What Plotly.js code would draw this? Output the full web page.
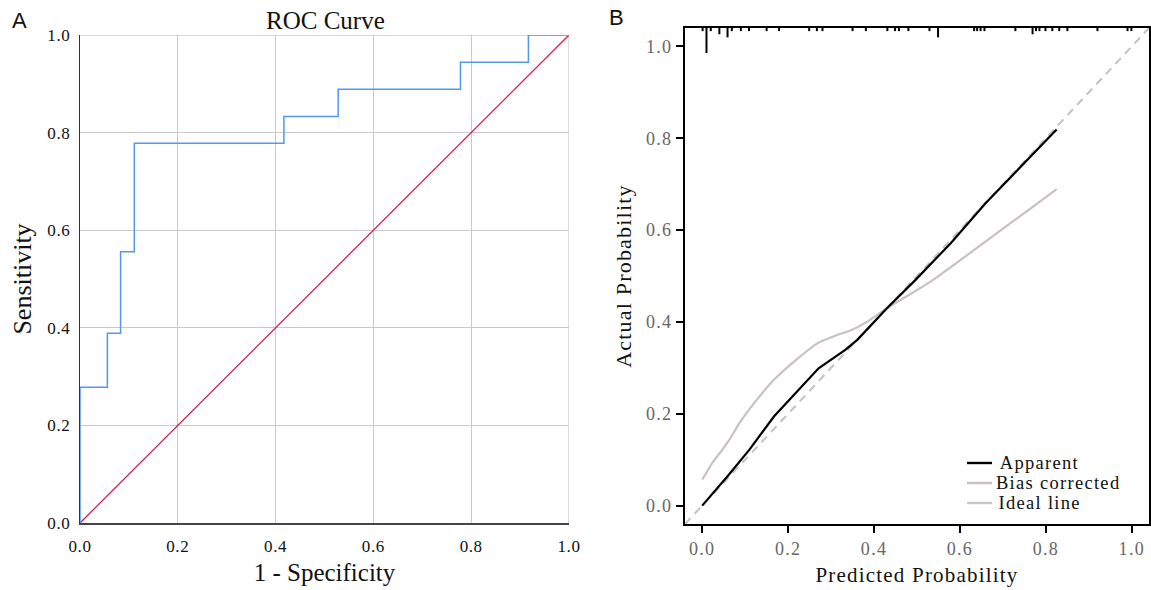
<!DOCTYPE html>
<html>
<head>
<meta charset="utf-8">
<script src="https://cdn.plot.ly/plotly-3.0.1.min.js"></script>
<style>
  html, body { margin: 0; padding: 0; background: #fff; }
  #chart { width: 1151px; height: 590px; }
  .xtick text, .ytick text { letter-spacing: 0.6px; }
  .x2tick text, .y2tick text { letter-spacing: 1.3px; }
  .g-x2title text, .g-y2title text { letter-spacing: 1.2px; }
  .annotation[data-index="3"] text,
  .annotation[data-index="4"] text,
  .annotation[data-index="5"] text { letter-spacing: 1.3px; }
</style>
</head>
<body>
<div id="chart"></div>
<script>
// ---------- Panel A: ROC curve ----------
const rocFPR = [0, 0, 0.056, 0.083, 0.111, 0.417, 0.528, 0.778, 0.917, 1.0];
const rocTPR = [0, 0.278, 0.389, 0.556, 0.778, 0.833, 0.889, 0.944, 1.0, 1.0];
const refX = [0, 1];
const refY = [0, 1];
const rocTicks = [0, 0.2, 0.4, 0.6, 0.8, 1.0];

// ---------- Panel B: calibration curve ----------
const apparentX = [0.0, 0.06, 0.11, 0.167, 0.271, 0.333, 0.361, 0.43, 0.496, 0.578, 0.659, 0.741, 0.825];
const apparentY = [0.0, 0.065, 0.122, 0.194, 0.299, 0.339, 0.361, 0.43, 0.491, 0.571, 0.658, 0.738, 0.819];
const biasX = [0.0, 0.01, 0.025, 0.047, 0.063, 0.087, 0.125, 0.167, 0.218, 0.271, 0.31, 0.349, 0.39, 0.43, 0.48, 0.537, 0.578, 0.619, 0.7, 0.76, 0.825];
const biasY = [0.057, 0.072, 0.095, 0.122, 0.143, 0.18, 0.228, 0.274, 0.317, 0.355, 0.37, 0.383, 0.404, 0.43, 0.458, 0.491, 0.519, 0.547, 0.603, 0.644, 0.689];
const idealX = [-0.04, 1.04];
const idealY = [-0.04, 1.04];
// distribution of predicted probabilities (rug at top) and relative frequency
const rugX = [0.001, 0.010, 0.020, 0.040, 0.059, 0.069, 0.090, 0.109, 0.150, 0.179, 0.249, 0.267, 0.280,
              0.350, 0.381, 0.431, 0.449, 0.458, 0.480, 0.529, 0.549, 0.633, 0.640, 0.648, 0.657, 0.729,
              0.769, 0.777, 0.785, 0.799, 0.815, 0.831, 0.850, 0.920, 0.990, 0.999];
const rugN = [1, 8, 1, 2, 3, 1, 1, 1, 1, 1, 1, 1, 1,
              1, 1, 1, 1, 1, 1, 1, 3, 1, 1, 1, 1, 1,
              2, 1, 1, 1, 1, 1, 1, 1, 1, 1];
const calTicks = [0, 0.2, 0.4, 0.6, 0.8, 1.0];
const legendNames = ['Apparent', 'Bias corrected', 'Ideal line'];
const legendColors = ['#000000', '#c8c1c1', '#c6c6c6'];

// build rug segments
const rugTop = 1.04, rugUnit = 0.0068;
const rugSegX = [], rugSegY = [];
rugX.forEach((v, i) => {
  rugSegX.push(v, v, null);
  rugSegY.push(rugTop, rugTop - rugUnit * rugN[i], null);
});

const W = 1151, H = 590;
const px = v => v / W;
const py = v => 1 - v / H;

const serif = 'Liberation Serif, Times New Roman, serif';
const sans = 'Liberation Sans, Arial, sans-serif';

const traces = [
  {x: refX, y: refY, xaxis: 'x', yaxis: 'y', mode: 'lines', line: {color: '#e3174a', width: 1.3}, showlegend: false, hoverinfo: 'skip'},
  {x: rocFPR, y: rocTPR, xaxis: 'x', yaxis: 'y', mode: 'lines', line: {color: '#5398f0', width: 1.5, shape: 'hv'}, showlegend: false, hoverinfo: 'skip'},

  {x: idealX, y: idealY, xaxis: 'x2', yaxis: 'y2', mode: 'lines', line: {color: '#c2c2c2', width: 2, dash: '8px,6px'}, showlegend: false, hoverinfo: 'skip'},
  {x: biasX, y: biasY, xaxis: 'x2', yaxis: 'y2', mode: 'lines', line: {color: legendColors[1], width: 2.2, shape: 'spline', smoothing: 0.6}, showlegend: false, hoverinfo: 'skip'},
  {x: apparentX, y: apparentY, xaxis: 'x2', yaxis: 'y2', mode: 'lines', line: {color: legendColors[0], width: 2.2}, showlegend: false, hoverinfo: 'skip'},
  {x: rugSegX, y: rugSegY, xaxis: 'x2', yaxis: 'y2', mode: 'lines', line: {color: '#000', width: 2}, showlegend: false, hoverinfo: 'skip', cliponaxis: false}
];

const shapes = [
  {type: 'line', xref: 'x', yref: 'y', x0: 0, x1: 1, y0: 1, y1: 1, line: {color: '#c9c9c9', width: 1.3}, layer: 'below'},
  {type: 'line', xref: 'x', yref: 'y', x0: 1, x1: 1, y0: 0, y1: 1, line: {color: '#c9c9c9', width: 1.3}, layer: 'below'}
];
const annotations = [
  {text: 'ROC Curve', xref: 'paper', yref: 'paper', x: px(325), y: py(20), xanchor: 'center', yanchor: 'middle', showarrow: false, font: {family: serif, size: 25, color: '#111'}},
  {text: 'A', xref: 'paper', yref: 'paper', x: px(19), y: py(20), xanchor: 'center', yanchor: 'middle', showarrow: false, font: {family: sans, size: 22, color: '#111'}},
  {text: 'B', xref: 'paper', yref: 'paper', x: px(616), y: py(18), xanchor: 'center', yanchor: 'middle', showarrow: false, font: {family: sans, size: 22, color: '#111'}}
];
// manual legend for panel B
legendNames.forEach((name, i) => {
  const yy = 463 + 20 * i;
  shapes.push({type: 'line', xref: 'paper', yref: 'paper', x0: px(967), x1: px(992), y0: py(yy), y1: py(yy),
               line: {color: legendColors[i], width: 2.4}});
  annotations.push({text: name, xref: 'paper', yref: 'paper', x: px(1003), y: py(yy), xanchor: 'left', yanchor: 'middle',
                    showarrow: false, font: {family: serif, size: 18.5, color: '#111'}});
});

const layout = {
  width: W, height: H,
  margin: {l: 0, r: 0, t: 0, b: 0},
  paper_bgcolor: '#fff', plot_bgcolor: '#fff',
  showlegend: false,
  xaxis: {
    domain: [px(80), px(569)], range: [0, 1], anchor: 'y',
    tickvals: rocTicks, tickformat: '.1f',
    ticks: 'outside', ticklen: 7, tickcolor: 'rgba(0,0,0,0)',
    tickfont: {family: serif, size: 17, color: '#111'},
    showgrid: true, gridcolor: '#c9c9c9', gridwidth: 1.3,
    showline: true, linecolor: '#444', linewidth: 1.5, zeroline: false,
    title: {text: '1 - Specificity', font: {family: serif, size: 25, color: '#111'}, standoff: 8},
    fixedrange: true
  },
  yaxis: {
    domain: [py(523), py(35)], range: [0, 1], anchor: 'x',
    tickvals: rocTicks, tickformat: '.1f',
    ticks: 'outside', ticklen: 5, tickcolor: 'rgba(0,0,0,0)',
    tickfont: {family: serif, size: 17, color: '#111'},
    showgrid: true, gridcolor: '#c9c9c9', gridwidth: 1.3,
    showline: true, linecolor: '#333', linewidth: 1.2, zeroline: false,
    title: {text: 'Sensitivity', font: {family: serif, size: 26, color: '#111'}, standoff: 8},
    fixedrange: true
  },
  xaxis2: {
    domain: [px(685), px(1149)], range: [-0.04, 1.04], anchor: 'y2',
    tickvals: calTicks, tickformat: '.1f',
    ticks: 'outside', ticklen: 7, tickwidth: 2, tickcolor: '#000',
    tickfont: {family: serif, size: 18, color: '#666'},
    showgrid: false, zeroline: false,
    showline: true, mirror: true, linecolor: '#000', linewidth: 2,
    title: {text: 'Predicted Probability', font: {family: serif, size: 21, color: '#111'}, standoff: 10},
    fixedrange: true
  },
  yaxis2: {
    domain: [py(524), py(28)], range: [-0.04, 1.04], anchor: 'x2',
    tickvals: calTicks, tickformat: '.1f',
    ticks: 'outside', ticklen: 7, tickwidth: 2, tickcolor: '#000',
    tickfont: {family: serif, size: 18, color: '#666'},
    showgrid: false, zeroline: false,
    showline: true, mirror: true, linecolor: '#000', linewidth: 2,
    title: {text: 'Actual Probability', font: {family: serif, size: 22, color: '#111'}, standoff: 8},
    fixedrange: true
  },
  shapes: shapes,
  annotations: annotations
};

Plotly.newPlot('chart', traces, layout, {staticPlot: true, displayModeBar: false});
</script>
</body>
</html>
